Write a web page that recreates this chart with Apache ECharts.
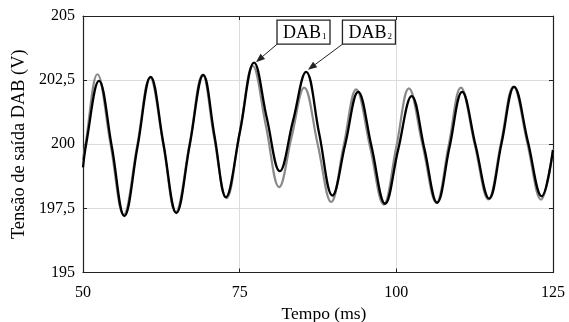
<!DOCTYPE html>
<html>
<head>
<meta charset="utf-8">
<script src="https://cdn.jsdelivr.net/npm/echarts@6/dist/echarts.min.js"></script>
<style>
  html, body { margin: 0; padding: 0; background: #fff; }
  #chart { width: 569px; height: 322px; }
</style>
</head>
<body>
<div id="chart"></div>
<script>
// time (ms) and output voltage (V) at peaks, troughs and crossings
const dab1Time = [50, 50.5, 52.55, 54.6, 56.6, 58.7, 60.8, 62.85, 64.9, 67.05, 69.2, 71.0, 72.8, 75.05, 77.3, 79.35, 81.4, 83.5, 85.6, 87.7, 89.8, 91.85, 93.9, 96.05, 98.2, 100.3, 102.45, 104.5, 106.5, 108.5, 110.5, 112.65, 114.8, 116.8, 118.8, 121.0, 123.2, 125];
const dab1Volt = [199.1, 200.0, 202.47, 199.9, 197.2, 199.9, 202.63, 200.0, 197.32, 200.0, 202.7, 200.3, 197.94, 200.5, 203.18, 201.0, 198.95, 200.9, 202.82, 200.4, 198.0, 200.0, 202.04, 199.9, 197.68, 199.8, 201.875, 199.8, 197.72, 199.9, 202.04, 199.95, 197.88, 200.05, 202.24, 200.1, 197.97, 199.77];

const dab2Time = [50, 50.4, 52.3, 54.4, 56.5, 58.65, 60.7, 62.8, 64.8, 67.0, 69.1, 70.9, 72.9, 75.0, 77.1, 79.2, 81.3, 83.3, 85.3, 87.45, 89.6, 91.6, 93.6, 95.8, 98.0, 100.0, 102.0, 104.2, 106.4, 108.35, 110.3, 112.5, 114.7, 116.7, 118.7, 120.9, 123.1, 125];
const dab2Volt = [199.4, 200.0, 202.73, 200.0, 197.25, 199.95, 202.6, 200.0, 197.35, 200.0, 202.72, 200.3, 197.9, 200.45, 203.05, 200.7, 198.33, 200.3, 202.21, 200.0, 197.75, 199.95, 202.14, 199.9, 197.65, 199.9, 202.18, 199.95, 197.72, 199.95, 202.21, 200.0, 197.85, 200.05, 202.25, 200.05, 197.84, 199.8];

// labelled arrows: box corner and arrow tip in data units
const annotations = [
  { sub: '1', box: [80.96, 203.9], tip: [77.6, 203.2] },
  { sub: '2', box: [91.4, 203.9], tip: [85.9, 202.9] }
];

const font = 'Liberation Serif';
const zip = (xs, ys) => xs.map((x, i) => [x, ys[i]]);

const chart = echarts.init(document.getElementById('chart'), null, { renderer: 'canvas' });

const axisLine = { show: true, lineStyle: { color: '#222', width: 1.2 } };
const tick = { show: true, inside: true, length: 4, lineStyle: { color: '#222' } };

chart.setOption({
  animation: false,
  backgroundColor: '#fff',
  grid: { left: 83, right: 16, top: 16, bottom: 49.5, outerBoundsMode: 'none' },
  xAxis: [{
    type: 'value', min: 50, max: 125, interval: 25,
    name: 'Tempo (ms)', nameLocation: 'middle', nameGap: 33,
    nameTextStyle: { fontFamily: font, fontSize: 17.5, color: '#000', padding: [0, 0, 0, 12] },
    axisLine: axisLine, axisTick: tick,
    axisLabel: { fontFamily: font, fontSize: 16, color: '#000', margin: 12 },
    splitLine: { show: true, lineStyle: { color: '#dcdcdc', width: 1 } }
  }, {
    type: 'value', min: 50, max: 125, interval: 25, position: 'top',
    axisLine: axisLine, axisTick: tick, axisLabel: { show: false }, splitLine: { show: false }
  }],
  yAxis: [{
    type: 'value', min: 195, max: 205, interval: 2.5,
    name: 'Tensão de saída DAB (V)', nameLocation: 'middle', nameGap: 51,
    nameTextStyle: { fontFamily: font, fontSize: 18.4, color: '#000' },
    axisLine: axisLine, axisTick: tick,
    axisLabel: { fontFamily: font, fontSize: 16, color: '#000', margin: 8,
      formatter: v => String(v).replace('.', ',') },
    splitLine: { show: true, lineStyle: { color: '#dcdcdc', width: 1 } }
  }, {
    type: 'value', min: 195, max: 205, interval: 2.5, position: 'right',
    axisLine: axisLine, axisTick: tick, axisLabel: { show: false }, splitLine: { show: false }
  }],
  series: [
    {
      name: 'DAB2', type: 'line', data: zip(dab2Time, dab2Volt),
      smooth: 0.4, showSymbol: false,
      lineStyle: { color: '#8a8a8a', width: 2.2 }
    },
    {
      name: 'DAB1', type: 'line', data: zip(dab1Time, dab1Volt),
      smooth: 0.4, showSymbol: false,
      lineStyle: { color: '#000', width: 2.3 }
    }
  ]
});

// boxes and arrows, placed from data coordinates
const elements = [];
annotations.forEach(a => {
  const [bx, by] = chart.convertToPixel({ gridIndex: 0 }, a.box);
  const [tx, ty] = chart.convertToPixel({ gridIndex: 0 }, a.tip);
  const w = 53, h = 24;
  elements.push({
    type: 'rect', shape: { x: bx, y: by - h, width: w, height: h },
    style: { fill: '#fff', stroke: '#222', lineWidth: 1.3 }, z: 10
  });
  elements.push({
    type: 'text', x: bx + 6, y: by - h / 2 + 1,
    style: { text: 'DAB', fontFamily: font, fontSize: 18, fill: '#000', verticalAlign: 'middle' }, z: 11
  });
  elements.push({
    type: 'text', x: bx + 45, y: by - 3,
    style: { text: a.sub, fontFamily: font, fontSize: 9, fill: '#000', verticalAlign: 'bottom' }, z: 11
  });
  const ang = Math.atan2(ty - by, tx - bx);
  const len = 9, half = 3.5;
  const baseX = tx - len * Math.cos(ang), baseY = ty - len * Math.sin(ang);
  elements.push({
    type: 'line', shape: { x1: bx, y1: by, x2: baseX, y2: baseY },
    style: { stroke: '#222', lineWidth: 1 }, z: 10
  });
  elements.push({
    type: 'polygon',
    shape: { points: [
      [tx, ty],
      [baseX + half * Math.sin(ang), baseY - half * Math.cos(ang)],
      [baseX - half * Math.sin(ang), baseY + half * Math.cos(ang)]
    ] },
    style: { fill: '#222' }, z: 10
  });
});
chart.setOption({ graphic: { elements: elements } });
</script>
</body>
</html>
